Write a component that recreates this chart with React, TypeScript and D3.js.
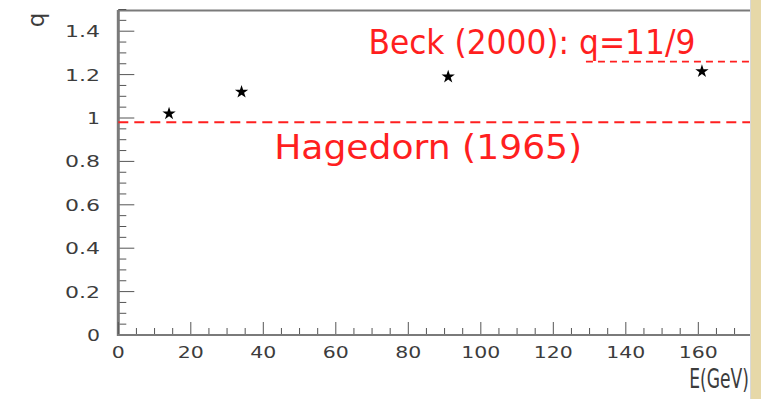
import * as d3 from 'd3';

// measured points (E in GeV, fitted q)
const energies = [14, 34, 91, 161];
const qValues = [1.02, 1.12, 1.19, 1.215];

const yTicks = [0, 0.2, 0.4, 0.6, 0.8, 1, 1.2, 1.4];
const yTickLabels = ['0', '0.2', '0.4', '0.6', '0.8', '1', '1.2', '1.4'];
const xTicks = [0, 20, 40, 60, 80, 100, 120, 140, 160];
const xTickLabels = ['0', '20', '40', '60', '80', '100', '120', '140', '160'];

// reference lines
const hagedornQ = 0.98;
const beckQ = 1.26;
const beckStartE = 129;

const W = 761;
const H = 399;
const red = '#ff1f1f';
const axisGray = '#7a7a7a';

const labelLen = (s: string) => s.split('').reduce((a, c) => a + (c === '.' ? 9 : 13), 0);

export default function App() {
  const x = d3.scaleLinear().domain([0, 175]).range([118.3, 752.7]);
  const y = d3.scaleLinear().domain([0, 1.5]).range([335, 9.5]);
  const x0 = x(0);
  const xEnd = 750;
  const y0 = y(0);

  const yMinor = d3.range(0, 1.5001, 0.05);
  const xMinor = d3.range(0, 175.001, 5);
  const star = d3.symbol().type(d3.symbolStar).size(55)();

  return (
    <div style={{ position: 'fixed', left: 0, top: 0 }}>
      <svg width={W} height={H} style={{ display: 'block', background: '#fff' }}>
        {/* top frame */}
        <line x1={x0} x2={xEnd} y1={10.5} y2={10.5} stroke={axisGray} strokeWidth={2} />

        {/* y axis */}
        {yMinor.map((v, i) => {
          const major = Math.abs(v / 0.2 - Math.round(v / 0.2)) < 1e-6;
          return (
            <line key={'ym' + i} x1={x0} x2={x0 + (major ? 16 : 8)} y1={y(v)} y2={y(v)}
              stroke="#555" strokeWidth={1} />
          );
        })}
        {yTicks.map((v, i) => (
          <text key={'yl' + i} x={100} y={y(v) + 6} textAnchor="end" fontFamily="DejaVu Sans"
            fontSize={16} fill="#3c3c3c" textLength={labelLen(yTickLabels[i])}
            lengthAdjust="spacingAndGlyphs">{yTickLabels[i]}</text>
        ))}
        <line x1={x0} x2={x0} y1={10} y2={y0 + 1} stroke={axisGray} strokeWidth={3} />
        <text transform="translate(44,20) rotate(-90)" textAnchor="middle" fontFamily="DejaVu Sans"
          fontSize={23} fill="#3c3c3c">q</text>

        {/* x axis */}
        {xMinor.map((v, i) => {
          const major = v % 20 === 0;
          if (x(v) > xEnd) return null;
          return (
            <line key={'xm' + i} x1={x(v)} x2={x(v)} y1={y0} y2={y0 - (major ? 13 : 7)}
              stroke="#555" strokeWidth={1} />
          );
        })}
        {xTicks.map((v, i) => (
          <text key={'xl' + i} x={x(v)} y={358} textAnchor="middle" fontFamily="DejaVu Sans"
            fontSize={16} fill="#3c3c3c" textLength={labelLen(xTickLabels[i])}
            lengthAdjust="spacingAndGlyphs">{xTickLabels[i]}</text>
        ))}
        <line x1={x0 - 1} x2={xEnd} y1={y0} y2={y0} stroke={axisGray} strokeWidth={2} />
        <text transform="translate(749,388) scale(0.66,1)" textAnchor="end" fontFamily="DejaVu Sans"
          fontSize={26} fill="#3c3c3c">E(GeV)</text>

        {/* reference lines */}
        <line x1={x0} x2={xEnd} y1={y(hagedornQ)} y2={y(hagedornQ)} stroke={red}
          strokeWidth={2} strokeDasharray="10 6" />
        <line x1={x(beckStartE)} x2={xEnd} y1={y(beckQ)} y2={y(beckQ)} stroke={red}
          strokeWidth={1.6} strokeDasharray="7 5" />
        <text x={x(43)} y={159} fontFamily="DejaVu Sans" fontSize={34} fill={red}
          textLength={308} lengthAdjust="spacingAndGlyphs">Hagedorn (1965)</text>
        <text x={x(69)} y={54} fontFamily="DejaVu Sans" fontSize={34} fill={red}
          textLength={327} lengthAdjust="spacingAndGlyphs">Beck (2000): q=11/9</text>

        {/* data points */}
        {energies.map((e, i) => (
          <path key={'p' + i} d={star ?? ''} transform={`translate(${x(e)},${y(qValues[i])})`}
            fill="#000" />
        ))}

        {/* beige strip on the right */}
        <line x1={750.5} x2={750.5} y1={0} y2={H} stroke="#d9d9d9" strokeWidth={1} />
        <rect x={751} y={0} width={W - 751} height={H} fill="#e6d8a8" />
      </svg>
    </div>
  );
}
